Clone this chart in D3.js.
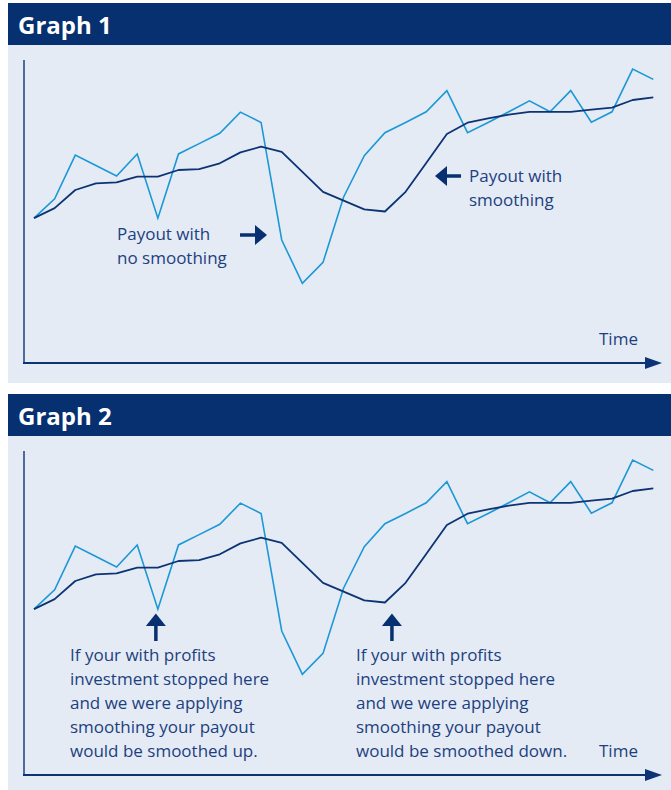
<!DOCTYPE html>
<html><head><meta charset="utf-8">
<script src="https://cdn.jsdelivr.net/npm/d3@7"></script>
<style>html,body{margin:0;padding:0;background:#fff;}svg{display:block;}</style>
</head><body>
<script>
// ---- data ----
const periods = d3.range(31);
const noSmoothing = [47.8,54.2,68.6,65.2,61.7,69.0,47.8,69.0,72.4,75.8,82.8,79.4,40.6,26.3,33.2,54.8,68.4,76.0,79.4,82.9,89.9,76.0,79.4,82.9,86.5,82.9,89.9,79.5,82.9,97.0,93.6];
const withSmoothing = [47.8,51.1,57.1,59.3,59.6,61.5,61.5,63.7,64.0,65.9,69.5,71.4,69.7,63.1,56.5,53.6,50.7,50.0,56.5,66.0,75.6,79.3,80.7,82.0,82.9,82.9,82.9,83.6,84.3,86.8,87.7];
const graphTitles = ["Graph 1","Graph 2"];
const axisLabel = "Time";
const g1Labels = {noSmooth:["Payout with","no smoothing"], smooth:["Payout with","smoothing"]};
const g2NoteUp = ["If your with profits","investment stopped here","and we were applying","smoothing your payout","would be smoothed up."];
const g2NoteDown = ["If your with profits","investment stopped here","and we were applying","smoothing your payout","would be smoothed down."];
const markIdx = [6,17];

const W=671,H=790;
const NAVY="#06306f", PANEL="#e4ebf5", LIGHT="#1b98d5", DARK="#0c3374", TXT="#1d3f80";
const FONT="'Open Sans', sans-serif";

const svg=d3.select("body").append("svg").attr("width",W).attr("height",H);

function drawGraph(off, idx){
  const g=svg.append("g").attr("transform",`translate(0,${off})`);
  g.append("rect").attr("x",8).attr("y",3).attr("width",W-8).attr("height",42).attr("fill",NAVY);
  g.append("rect").attr("x",8).attr("y",45).attr("width",W-8).attr("height",idx===0?338:354).attr("fill",PANEL);
  g.append("text").attr("x",18).attr("y",34).attr("fill","#fff").attr("font-family",FONT)
    .attr("font-weight",700).attr("font-size",24).text(graphTitles[idx]);

  const x=d3.scaleLinear().domain([0,30]).range([34,653.3]);
  const y=d3.scaleLinear().domain([0,100]).range([363,60]);
  const axisY = idx===0?363:384;

  // axes
  g.append("line").attr("x1",24).attr("x2",24).attr("y1",60).attr("y2",axisY+1)
    .attr("stroke","#4d6b9c").attr("stroke-width",2);
  g.append("line").attr("x1",23).attr("x2",648).attr("y1",axisY).attr("y2",axisY)
    .attr("stroke",DARK).attr("stroke-width",2);
  g.append("path").attr("d",`M645,${axisY-6}L662,${axisY}L645,${axisY+6}Z`).attr("fill",DARK);
  g.append("text").attr("x",599).attr("y",axisY-18).attr("fill",TXT).attr("font-family",FONT)
    .attr("font-size",17).text(axisLabel);

  const line=d3.line().x((d,i)=>x(i)).y(d=>y(d));
  g.append("path").datum(noSmoothing).attr("d",line).attr("fill","none")
    .attr("stroke",LIGHT).attr("stroke-width",1.6).attr("stroke-linejoin","miter");
  g.append("path").datum(withSmoothing).attr("d",line).attr("fill","none")
    .attr("stroke",DARK).attr("stroke-width",1.8).attr("stroke-linejoin","round");

  function lines(tx,ty,arr){
    const t=g.append("text").attr("fill",TXT).attr("font-family",FONT).attr("font-size",17);
    arr.forEach((s,i)=>t.append("tspan").attr("x",tx).attr("y",ty+i*24).text(s));
  }
  if(idx===0){
    lines(117,240,g1Labels.noSmooth);
    // right arrow
    g.append("path").attr("d","M240,235L257,235").attr("stroke",NAVY).attr("stroke-width",3.5);
    g.append("path").attr("d","M255,225L267,235L255,245Z").attr("fill",NAVY);
    lines(469,182,g1Labels.smooth);
    g.append("path").attr("d","M446,176L461,176").attr("stroke",NAVY).attr("stroke-width",3.5);
    g.append("path").attr("d","M447,166L435,176L447,186Z").attr("fill",NAVY);
  } else {
    const ax=[x(markIdx[0])-2, x(markIdx[1])+7];
    ax.forEach(cx=>{
      g.append("path").attr("d",`M${cx},${232}L${cx},${250}`).attr("stroke",NAVY).attr("stroke-width",3.5);
      g.append("path").attr("d",`M${cx-10},${235}L${cx},${222.5}L${cx+10},${235}Z`).attr("fill",NAVY);
    });
    lines(70,270,g2NoteUp);
    lines(356,270,g2NoteDown);
  }
}
drawGraph(0,0);
drawGraph(391,1);
</script>
</body></html>
